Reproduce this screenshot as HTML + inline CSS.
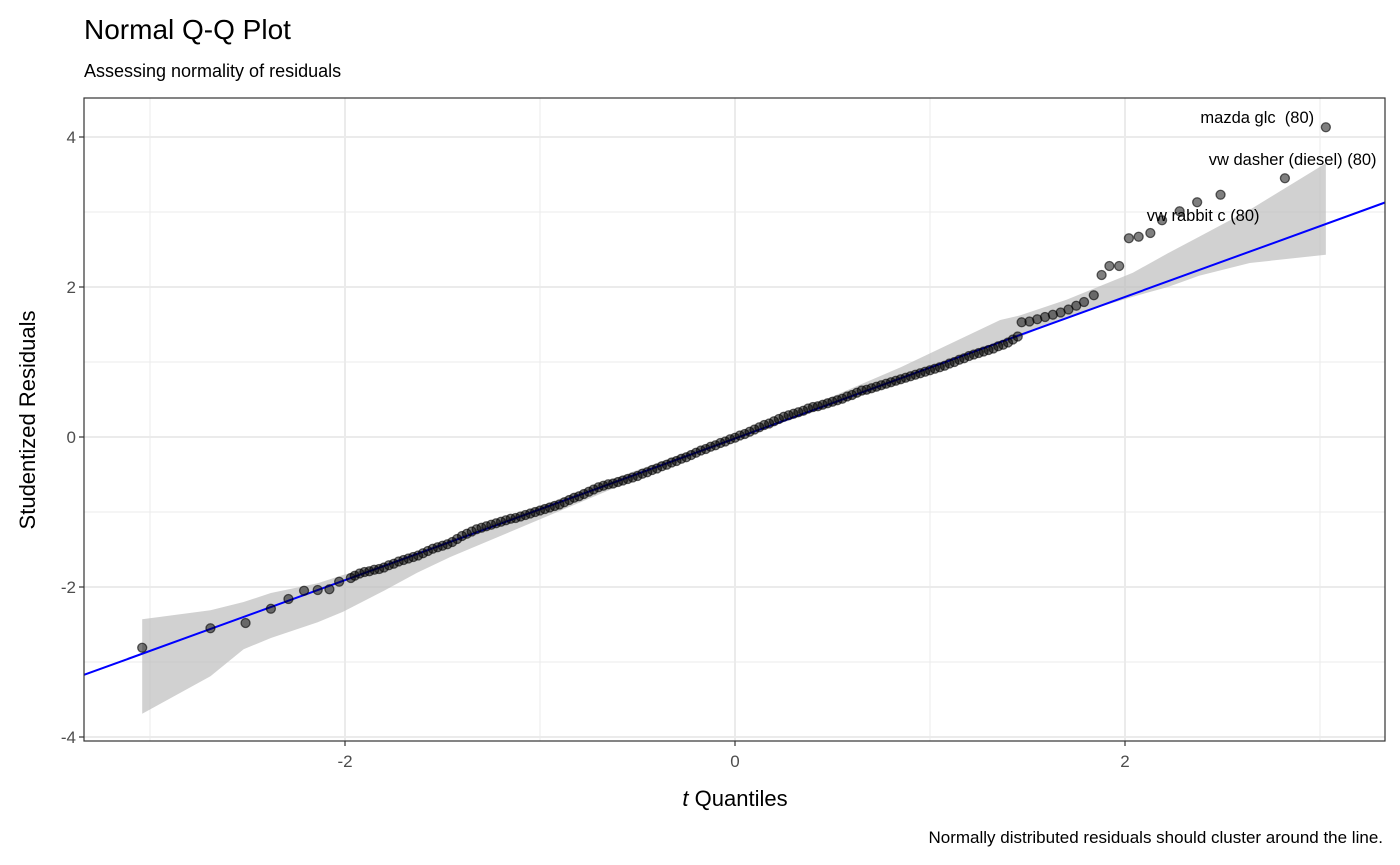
<!DOCTYPE html>
<html><head><meta charset="utf-8"><style>
html,body{margin:0;padding:0;background:#fff;}
svg{display:block;font-family:"Liberation Sans",Arial,sans-serif;}
</style></head><body>
<svg id="chart" width="1400" height="865"></svg>
<script>
const xTicks=[-2,0,2];
const yTicks=[-4,-2,0,2,4];
const xMinor=[-3,-1,1,3];
const yMinor=[-3,-1,1,3];
const bandX=[-3.04,-2.69,-2.52,-2.38,-2.14,-2.01,-1.8,-1.63,-1.46,-1.03,-0.5,0,0.5,0.85,1.36,1.46,1.70,2.04,2.22,2.38,2.64,3.03];
const bandUpper=[-2.43,-2.31,-2.20,-2.08,-1.95,-1.84,-1.70,-1.55,-1.37,-0.95,-0.44,0.03,0.54,0.93,1.56,1.62,1.83,2.19,2.45,2.67,3.03,3.65];
const bandLower=[-3.69,-3.19,-2.83,-2.68,-2.47,-2.33,-2.05,-1.81,-1.60,-1.13,-0.55,-0.03,0.42,0.72,1.20,1.33,1.60,1.87,2.00,2.15,2.32,2.43];
const lineSlope=0.944;
const lineIntercept=-0.02;
const lowX=[-3.04,-2.69,-2.51,-2.38,-2.29,-2.21,-2.14,-2.08,-2.03,-1.97];
const lowY=[-2.81,-2.55,-2.48,-2.29,-2.16,-2.05,-2.04,-2.03,-1.93,-1.88];
const midX=[-1.950,-1.925,-1.900,-1.875,-1.850,-1.825,-1.800,-1.775,-1.750,-1.725,
-1.700,-1.675,-1.650,-1.625,-1.600,-1.575,-1.550,-1.525,-1.500,-1.475,
-1.450,-1.425,-1.400,-1.375,-1.350,-1.325,-1.300,-1.275,-1.250,-1.225,
-1.200,-1.175,-1.150,-1.125,-1.100,-1.075,-1.050,-1.025,-1.000,-0.975,
-0.950,-0.925,-0.900,-0.875,-0.850,-0.825,-0.800,-0.775,-0.750,-0.725,
-0.700,-0.675,-0.650,-0.625,-0.600,-0.575,-0.550,-0.525,-0.500,-0.475,
-0.450,-0.425,-0.400,-0.375,-0.350,-0.325,-0.300,-0.275,-0.250,-0.225,
-0.200,-0.175,-0.150,-0.125,-0.100,-0.075,-0.050,-0.025,0.000,0.025,
0.050,0.075,0.100,0.125,0.150,0.175,0.200,0.225,0.250,0.275,
0.300,0.325,0.350,0.375,0.400,0.425,0.450,0.475,0.500,0.525,
0.550,0.575,0.600,0.625,0.650,0.675,0.700,0.725,0.750,0.775,
0.800,0.825,0.850,0.875,0.900,0.925,0.950,0.975,1.000,1.025,
1.050,1.075,1.100,1.125,1.150,1.175,1.200,1.225,1.250,1.275,
1.300,1.325,1.350,1.375,1.400,1.425,1.450];
const midY=[-1.85,-1.82,-1.80,-1.79,-1.77,-1.76,-1.74,-1.71,-1.69,-1.66,
-1.64,-1.62,-1.60,-1.58,-1.55,-1.52,-1.49,-1.47,-1.45,-1.43,
-1.40,-1.36,-1.32,-1.29,-1.26,-1.23,-1.21,-1.19,-1.17,-1.15,
-1.13,-1.11,-1.09,-1.08,-1.06,-1.04,-1.02,-1.00,-0.98,-0.96,
-0.94,-0.92,-0.90,-0.87,-0.84,-0.81,-0.79,-0.76,-0.73,-0.70,
-0.67,-0.65,-0.63,-0.62,-0.60,-0.58,-0.56,-0.54,-0.52,-0.49,
-0.47,-0.44,-0.42,-0.39,-0.37,-0.34,-0.32,-0.29,-0.27,-0.24,
-0.21,-0.18,-0.16,-0.13,-0.11,-0.08,-0.06,-0.03,-0.01,0.02,
0.04,0.07,0.10,0.13,0.16,0.18,0.21,0.24,0.27,0.29,
0.31,0.33,0.35,0.38,0.40,0.41,0.43,0.45,0.47,0.49,
0.51,0.54,0.56,0.59,0.62,0.63,0.65,0.67,0.69,0.71,
0.73,0.75,0.77,0.79,0.81,0.83,0.85,0.87,0.89,0.91,
0.93,0.95,0.98,1.00,1.03,1.05,1.08,1.10,1.12,1.14,
1.16,1.18,1.21,1.23,1.26,1.30,1.34];
const highX=[1.47,1.51,1.55,1.59,1.63,1.67,1.71,1.75,1.79,1.84,
1.88,1.92,1.97,2.02,2.07,2.13,2.19,2.28,2.37,2.49,2.82,3.03];
const highY=[1.53,1.54,1.57,1.60,1.63,1.66,1.70,1.75,1.80,1.89,
2.16,2.28,2.28,2.65,2.67,2.72,2.89,3.01,3.13,3.23,3.45,4.13];
const labelText=["mazda glc  (80)","vw dasher (diesel) (80)","vw rabbit c (80)"];
const labelX=[2.97,3.29,2.69];
const labelY=[4.27,3.71,2.96];

const NS="http://www.w3.org/2000/svg";
const svg=document.getElementById('chart');
const L=84,R=1385,T=98,B=741;
const sx=v=>735+v*195;
const sy=v=>437-v*75;
function mk(tag,attrs,parent){const e=document.createElementNS(NS,tag);for(const k in attrs)e.setAttribute(k,attrs[k]);(parent||svg).appendChild(e);return e;}

let t=mk('text',{x:84,y:39,'font-size':28,fill:'#000'});t.textContent='Normal Q-Q Plot';


t=mk('text',{x:84,y:77,'font-size':18,fill:'#000'});t.textContent='Assessing normality of residuals';



const defs=mk('defs',{});const cp=mk('clipPath',{id:'clip'},defs);mk('rect',{x:L,y:T,width:R-L,height:B-T},cp);
const g=mk('g',{'clip-path':'url(#clip)'});



xMinor.forEach(v=>{const e=mk('line',{x1:sx(v),x2:sx(v),y1:T,y2:B,stroke:'#ebebeb','stroke-width':1},g);

});
yMinor.forEach(v=>{const e=mk('line',{x1:L,x2:R,y1:sy(v),y2:sy(v),stroke:'#ebebeb','stroke-width':1},g);

});
xTicks.forEach(v=>{const e=mk('line',{x1:sx(v),x2:sx(v),y1:T,y2:B,stroke:'#ebebeb','stroke-width':2},g);

});
yTicks.forEach(v=>{const e=mk('line',{x1:L,x2:R,y1:sy(v),y2:sy(v),stroke:'#ebebeb','stroke-width':2},g);

});

let d='';bandX.forEach((v,i)=>{d+=(i?'L':'M')+sx(v)+','+sy(bandUpper[i]);});
for(let i=bandX.length-1;i>=0;i--)d+='L'+sx(bandX[i])+','+sy(bandLower[i]);
const band=mk('path',{d:d+'Z',fill:'#bdbdbd','fill-opacity':0.7},g);



const ln=mk('line',{x1:L,y1:sy(lineSlope*(-(735-L)/195)+lineIntercept),x2:R,y2:sy(lineSlope*((R-735)/195)+lineIntercept),stroke:'#0000ff','stroke-width':2},g);



const allX=lowX.concat(midX,highX);
const allY=lowY.concat(midY,highY);
allX.forEach((v,i)=>{const c=mk('circle',{cx:sx(v),cy:sy(allY[i]),r:4.5,fill:'#000','fill-opacity':0.5,stroke:'#000','stroke-opacity':0.6,'stroke-width':1.3},g);

});

labelText.forEach((s,i)=>{const e=mk('text',{x:sx(labelX[i]),y:sy(labelY[i])+6,'font-size':16.5,fill:'#000','text-anchor':'end','xml:space':'preserve',style:'white-space:pre'});e.textContent=s;

});

const fr=mk('rect',{x:L,y:T,width:R-L,height:B-T,fill:'none',stroke:'#333','stroke-width':1.2});



xTicks.forEach(v=>{mk('line',{x1:sx(v),x2:sx(v),y1:B,y2:B+5,stroke:'#333','stroke-width':1.2});
const e=mk('text',{x:sx(v),y:B+26,'font-size':17,fill:'#4d4d4d','text-anchor':'middle'});e.textContent=v;

});
yTicks.forEach(v=>{mk('line',{x1:L-5,x2:L,y1:sy(v),y2:sy(v),stroke:'#333','stroke-width':1.2});
const e=mk('text',{x:L-8,y:sy(v)+6,'font-size':17,fill:'#4d4d4d','text-anchor':'end'});e.textContent=v;

});

t=mk('text',{x:735,y:806,'font-size':22,fill:'#000','text-anchor':'middle'});
t.innerHTML='<tspan font-style="italic">t</tspan> Quantiles';


t=mk('text',{x:0,y:0,'font-size':22,fill:'#000','text-anchor':'middle',transform:'translate(35,420) rotate(-90)'});
t.textContent='Studentized Residuals';


t=mk('text',{x:1383,y:843,'font-size':17,fill:'#000','text-anchor':'end'});
t.textContent='Normally distributed residuals should cluster around the line.';


</script>
</body></html>
